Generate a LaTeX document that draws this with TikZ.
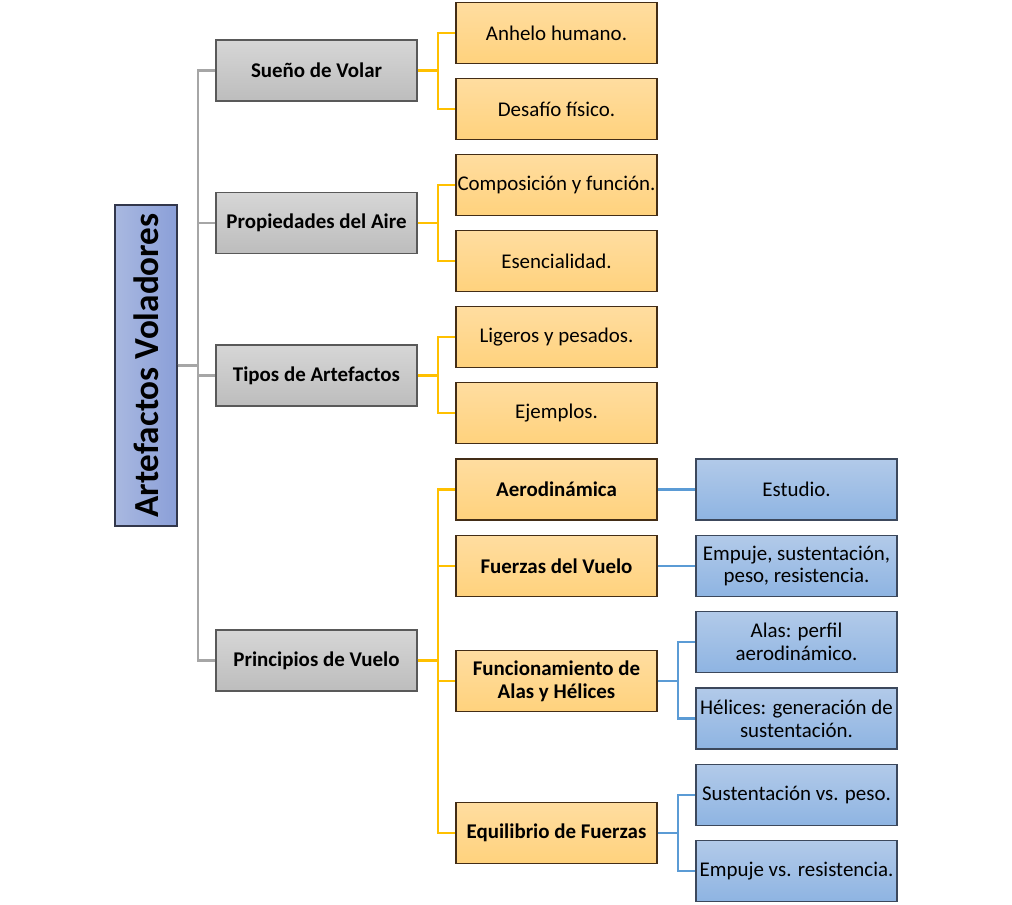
\documentclass[tikz,border=0pt]{standalone}
\usepackage{fontspec}
\setmainfont{Carlito}
\begin{document}
\begin{tikzpicture}[x=0.75pt,y=-0.75pt,
  boxbase/.style={draw, line width=0.9pt, inner sep=0pt, align=center,
    minimum width=150.75pt, minimum height=45.75pt,
    font=\fontsize{15.7}{17}\selectfont},
  graybox/.style={boxbase, draw=black!65, top color=black!16, bottom color=black!26, font=\fontsize{15.7}{17}\selectfont\bfseries},
  orangebox/.style={boxbase, draw=black!65!brown, top color={rgb,255:red,255;green,221;blue,160}, bottom color={rgb,255:red,255;green,210;blue,125}},
  orangebold/.style={orangebox, font=\fontsize{15.7}{17}\selectfont\bfseries},
  bluebox/.style={boxbase, draw={rgb,255:red,60;green,72;blue,92}, top color={rgb,255:red,178;green,202;blue,233}, bottom color={rgb,255:red,142;green,180;blue,226}},
  rootbox/.style={draw={rgb,255:red,50;green,55;blue,75}, line width=0.9pt, inner sep=0pt,
    minimum width=240.75pt, minimum height=46.5pt, rotate=90,
    left color={rgb,255:red,169;green,184;blue,224}, right color={rgb,255:red,138;green,159;blue,216},
    font=\fontsize{26.4}{30}\selectfont\bfseries},
  grayline/.style={draw={rgb,255:red,166;green,166;blue,166}, line width=1.6pt},
  orangeline/.style={draw={rgb,255:red,255;green,192;blue,0}, line width=1.6pt},
  blueline/.style={draw={rgb,255:red,91;green,155;blue,213}, line width=1.6pt}
]
\useasboundingbox (0,0) rectangle (1012,904);

% root
\node[rootbox] (root) at (146,365.5) {Artefactos Voladores};

% level 1
\node[graybox] (g1) at (316.5,70.5) {Sueño de Volar};
\node[graybox] (g2) at (316.5,223) {Propiedades del Aire};
\node[graybox] (g3) at (316.5,375.5) {Tipos de Artefactos};
\node[graybox] (g4) at (316.5,660.5) {Principios de Vuelo};

% level 2
\node[orangebox] (o1) at (556.5,33) {Anhelo humano.};
\node[orangebox] (o2) at (556.5,109) {Desafío físico.};
\node[orangebox] (o3) at (556.5,185) {Composición y función.};
\node[orangebox] (o4) at (556.5,261) {Esencialidad.};
\node[orangebox] (o5) at (556.5,337) {Ligeros y pesados.};
\node[orangebox] (o6) at (556.5,413) {Ejemplos.};
\node[orangebold] (o7) at (556.5,489.5) {Aerodinámica};
\node[orangebold] (o8) at (556.5,566) {Fuerzas del Vuelo};
\node[orangebold] (o9) at (556.5,681) {Funcionamiento de\\Alas y Hélices};
\node[orangebold] (o10) at (556.5,833) {Equilibrio de Fuerzas};

% level 3
\node[bluebox] (b1) at (796.5,489.5) {Estudio.};
\node[bluebox] (b2) at (796.5,566) {Empuje, sustentación,\\peso, resistencia.};
\node[bluebox] (b3) at (796.5,642) {Alas: perfil\\aerodinámico.};
\node[bluebox] (b4) at (796.5,718.5) {Hélices: generación de\\sustentación.};
\node[bluebox] (b5) at (796.5,795) {Sustentación vs. peso.};
\node[bluebox] (b6) at (796.5,871) {Empuje vs. resistencia.};

% connectors root -> level 1
\foreach \c in {g1,g2,g3,g4}
  \draw[grayline] (root.south) -- ++(20,0) |- (\c.west);

% level 1 -> level 2
\draw[orangeline] (g1.east) -- ++(20,0) |- (o1.west);
\draw[orangeline] (g1.east) -- ++(20,0) |- (o2.west);
\draw[orangeline] (g2.east) -- ++(20,0) |- (o3.west);
\draw[orangeline] (g2.east) -- ++(20,0) |- (o4.west);
\draw[orangeline] (g3.east) -- ++(20,0) |- (o5.west);
\draw[orangeline] (g3.east) -- ++(20,0) |- (o6.west);
\foreach \c in {o7,o8,o9,o10}
  \draw[orangeline] (g4.east) -- ++(20,0) |- (\c.west);

% level 2 -> level 3
\draw[blueline] (o7.east) -- (b1.west);
\draw[blueline] (o8.east) -- (b2.west);
\draw[blueline] (o9.east) -- ++(20,0) |- (b3.west);
\draw[blueline] (o9.east) -- ++(20,0) |- (b4.west);
\draw[blueline] (o10.east) -- ++(20,0) |- (b5.west);
\draw[blueline] (o10.east) -- ++(20,0) |- (b6.west);
\end{tikzpicture}
\end{document}
